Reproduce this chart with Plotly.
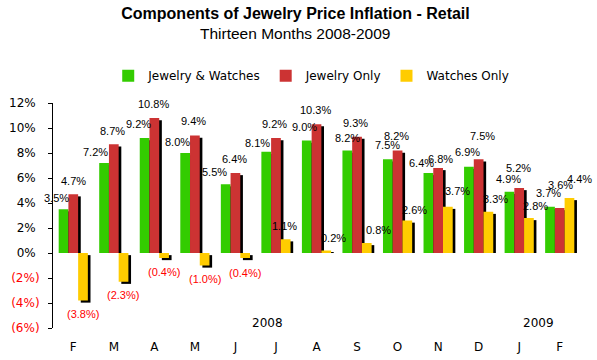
import plotly.graph_objects as go

MONTHS = ["F", "M", "A", "M", "J", "J", "A", "S", "O", "N", "D", "J", "F"]
SERIES_NAMES = ["Jewelry & Watches", "Jewelry Only", "Watches Only"]
JEWELRY_WATCHES = [3.5, 7.2, 9.2, 8.0, 5.5, 8.1, 9.0, 8.2, 7.5, 6.4, 6.9, 4.9, 3.7]
JEWELRY_ONLY = [4.7, 8.7, 10.8, 9.4, 6.4, 9.2, 10.3, 9.3, 8.2, 6.8, 7.5, 5.2, 3.6]
WATCHES_ONLY = [-3.8, -2.3, -0.4, -1.0, -0.4, 1.1, 0.2, 0.8, 2.6, 3.7, 3.3, 2.8, 4.4]
YEAR_LABELS = ["2008", "2009"]
Y_TICKS = [-6, -4, -2, 0, 2, 4, 6, 8, 10, 12]

# ---- styling / placement (not data) ----
COLORS = ["#33CC00", "#CC3333", "#FFCC00"]
BAR_W = 0.24
OFFSETS = [-0.36, -0.12, 0.12]
SHADOW_DX = 0.065
SHADOW_DY = 0.17
LABEL_DX = [
    [-7, -9, -6.6, -8, -11, -9, -2, 0, 0, -6.7, -1.4, -0.7, -1.7],
    [0, -1.3, -0.8, -1.4, -0.9, -1.1, -1.3, -1.3, -0.6, 2.4, 4, -1, 1.2],
    [-0.5, -0.8, -0.5, 0, -0.4, -1, 7.5, 12, 7, 10, 7.5, 6.5, 10.5],
]
LABEL_DY = [
    [11, 11, 13.8, 11, 12.4, 9.2, 14, 13, 14.3, 10, 14.5, 12.5, 13.8],
    [13.3, 13.4, 13.6, 14.6, 13.8, 14.5, 14.5, 13.7, 14.3, 9, 23, 20, 22.8],
    [13.2, 13.7, 13.7, 13.5, 14.7, 13.4, 12.6, 13.5, 11, 15.7, 13, 12.5, 19],
]
YEAR_POS = [4.8, 11.48]
RED = "#FF0000"

series = [JEWELRY_WATCHES, JEWELRY_ONLY, WATCHES_ONLY]
idx = list(range(len(MONTHS)))

fig = go.Figure()
for s, vals in enumerate(series):
    sh_base = [0 if v >= 0 else -SHADOW_DY for v in vals]
    sh_y = [v - SHADOW_DY if v >= 0 else v for v in vals]
    fig.add_trace(go.Bar(
        x=idx, y=sh_y, base=sh_base, width=BAR_W, offset=OFFSETS[s] + SHADOW_DX,
        marker=dict(color="black", line=dict(width=0)),
        showlegend=False, hoverinfo="skip",
    ))
    fig.add_trace(go.Bar(
        x=idx, y=vals, width=BAR_W, offset=OFFSETS[s], name=SERIES_NAMES[s],
        marker=dict(color=COLORS[s], line=dict(width=0)),
    ))

annotations = []
for s, vals in enumerate(series):
    for i, v in enumerate(vals):
        neg = v < 0
        txt = f"({abs(v):.1f}%)" if neg else f"{v:.1f}%"
        annotations.append(dict(
            x=i + OFFSETS[s] + BAR_W / 2, y=v, xref="x", yref="y",
            text=txt, showarrow=False, xanchor="center", yanchor="middle",
            xshift=LABEL_DX[s][i], yshift=(-LABEL_DY[s][i] if neg else LABEL_DY[s][i]),
            font=dict(family="Liberation Sans", size=11, color=RED if neg else "black"),
        ))

for lab, xp in zip(YEAR_LABELS, YEAR_POS):
    annotations.append(dict(
        x=xp, y=-5.58, xref="x", yref="y", text=lab, showarrow=False,
        xanchor="center", yanchor="middle",
        font=dict(family="DejaVu Sans", size=12, color="black"),
    ))

annotations.append(dict(
    x=0.459, y=1.308, xref="paper", yref="paper", text="Thirteen Months 2008-2009",
    showarrow=False, xanchor="center", yanchor="middle",
    font=dict(family="Liberation Sans", size=15.5, color="black"),
))

ytext = []
for t in Y_TICKS:
    if t < 0:
        ytext.append(f'<span style="color:{RED}">({abs(t)}%)</span>')
    else:
        ytext.append(f"{t}%\u00a0")

fig.update_layout(
    width=597, height=360,
    margin=dict(l=53, r=17, t=103, b=32, autoexpand=False),
    paper_bgcolor="white", plot_bgcolor="white",
    barmode="overlay",
    title=dict(
        text="<b>Components of Jewelry Price Inflation - Retail</b>",
        x=0.495, xref="container", xanchor="center",
        y=0.962, yref="container", yanchor="middle",
        font=dict(family="Liberation Sans", size=16, color="black"),
    ),
    legend=dict(
        orientation="h", x=0.49, xanchor="center", y=1.121, yanchor="middle",
        font=dict(family="DejaVu Sans", size=12, color="black"),
        bgcolor="rgba(0,0,0,0)", itemclick=False, itemdoubleclick=False,
    ),
    xaxis=dict(
        range=[-0.5, 12.5], tickmode="array", tickvals=idx, ticktext=MONTHS,
        showline=False, showgrid=False, zeroline=False, ticks="",
        ticklabelstandoff=10,
        tickfont=dict(family="DejaVu Sans", size=12, color="black"),
    ),
    xaxis2=dict(
        overlaying="x", anchor="free", position=1 / 3, side="bottom",
        range=[-0.5, 12.5], tickmode="array",
        tickvals=[i - 0.5 for i in range(len(MONTHS) + 1)],
        showticklabels=False, ticks="outside", ticklen=4, tickcolor="black",
        showline=True, linecolor="black", linewidth=1,
        showgrid=False, zeroline=False,
    ),
    yaxis=dict(
        range=[-6, 12], tickmode="array", tickvals=Y_TICKS, ticktext=ytext,
        showline=True, linecolor="black", linewidth=1,
        ticks="outside", ticklen=4, tickcolor="black",
        showgrid=False, zeroline=False, ticklabelstandoff=6,
        tickfont=dict(family="DejaVu Sans", size=12, color="black"),
    ),
    annotations=annotations,
)

fig.write_html(
    "out.html",
    config={"displayModeBar": False},
    post_script="document.body.style.margin='0';document.body.style.overflow='hidden';",
)
